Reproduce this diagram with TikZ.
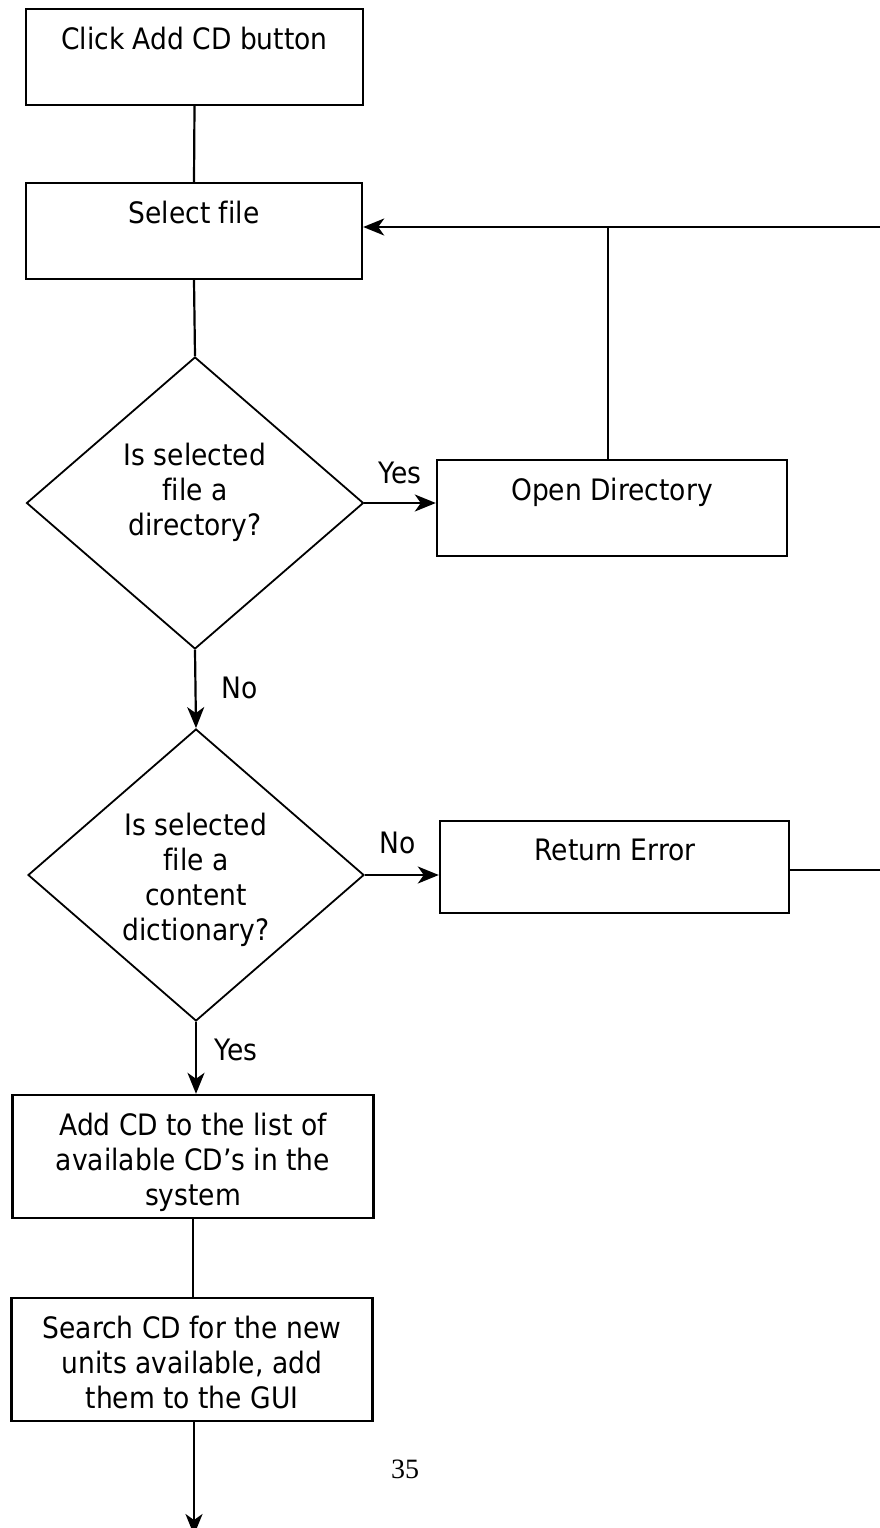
\documentclass[tikz,border=0pt]{standalone}
\usepackage{fontspec}
\setmainfont[Ligatures=NoCommon]{DejaVu Sans Condensed}
\newfontfamily\numfont{Liberation Serif}
\usetikzlibrary{shapes.geometric,arrows.meta}
\tikzset{
  box/.style={draw, line width=2.4pt, rectangle, inner sep=0pt},
  dia/.style={draw, line width=1.8pt, diamond, inner sep=0pt},
  txt/.style={anchor=base, inner sep=0pt, font=\fontsize{29.5}{35}\selectfont},
  conn/.style={line width=2.2pt},
  arr/.style={line width=2.2pt, -{Stealth[length=21pt,width=17pt,inset=6pt]}},
}
\begin{document}
\begin{tikzpicture}[x=1pt,y=-1pt]
\useasboundingbox (0,0) rectangle (880,1528);
\fill[white] (0,0) rectangle (880,1528);

% boxes
\node[box, minimum width=337pt, minimum height=96pt] (b1) at (194.5,57) {};
\node[box, minimum width=336pt, minimum height=96pt] (b2) at (194,231) {};
\node[dia, minimum width=337pt, minimum height=292pt] (d1) at (195,503) {};
\node[box, minimum width=350pt, minimum height=96pt] (od) at (612,508) {};
\node[dia, minimum width=336pt, minimum height=292pt] (d2) at (196,875) {};
\node[box, minimum width=349pt, minimum height=92pt] (re) at (614.5,867) {};
\node[box, minimum width=361pt, minimum height=123pt] (b3) at (193,1156.5) {};
\node[box, minimum width=361pt, minimum height=123pt] (b4) at (192,1359.5) {};

% texts
\node[txt] (t1) at (194.5,49) {Click Add CD button};
\node[txt] (t2) at (194,223) {Select file};
\node[txt] (t3a) at (195,465) {Is selected};
\node[txt] (t3b) at (195,500) {file a};
\node[txt] (t3c) at (195,535) {directory?};
\node[txt] (t4) at (612,500) {Open Directory};
\node[txt] (t5a) at (196,835) {Is selected};
\node[txt] (t5b) at (196,870) {file a};
\node[txt] (t5c) at (196,905) {content};
\node[txt] (t5d) at (196,940) {dictionary?};
\node[txt] (t6) at (615,860) {Return Error};
\node[txt] (t7a) at (193,1135) {Add CD to the list of};
\node[txt] (t7b) at (193,1170) {available CD’s in the};
\node[txt] (t7c) at (193,1205) {system};
\node[txt] (t8a) at (192,1338) {Search CD for the new};
\node[txt] (t8b) at (192,1373) {units available, add};
\node[txt] (t8c) at (192,1408) {them to the GUI};

% labels
\node[txt] (yes1) at (400,483) {Yes};
\node[txt] (no1) at (240,698) {No};
\node[txt] (no2) at (398,853) {No};
\node[txt] (yes2) at (236,1060) {Yes};
\node[anchor=base, inner sep=0pt, font=\numfont\fontsize{28}{32}\selectfont] (pg) at (405,1478) {35};

% coordinates
\coordinate (rtop) at (880,227);
\coordinate (jn) at (608,227);
\coordinate (rmid) at (880,870);
\coordinate (bend) at (194,1535);

% connectors
\draw[conn] (b1.south) -- (b2.north);
\draw[conn] (b2.south) -- (d1.north);
\draw[arr] (d1.east) -- (od.west |- d1.east);
\draw[conn] (od.north -| jn) -- (jn);
\draw[arr] (rtop) -- (b2.east |- rtop);
\draw[arr] (d1.south) -- (d2.north);
\draw[arr] (d2.east) -- (re.west |- d2.east);
\draw[conn] (re.east |- rmid) -- (rmid);
\draw[arr] (d2.south) -- (b3.north -| d2.south);
\draw[conn] (b3.south) -- (b3.south |- b4.north);
\draw[arr] (b4.south -| bend) -- (bend);
\end{tikzpicture}
\end{document}
